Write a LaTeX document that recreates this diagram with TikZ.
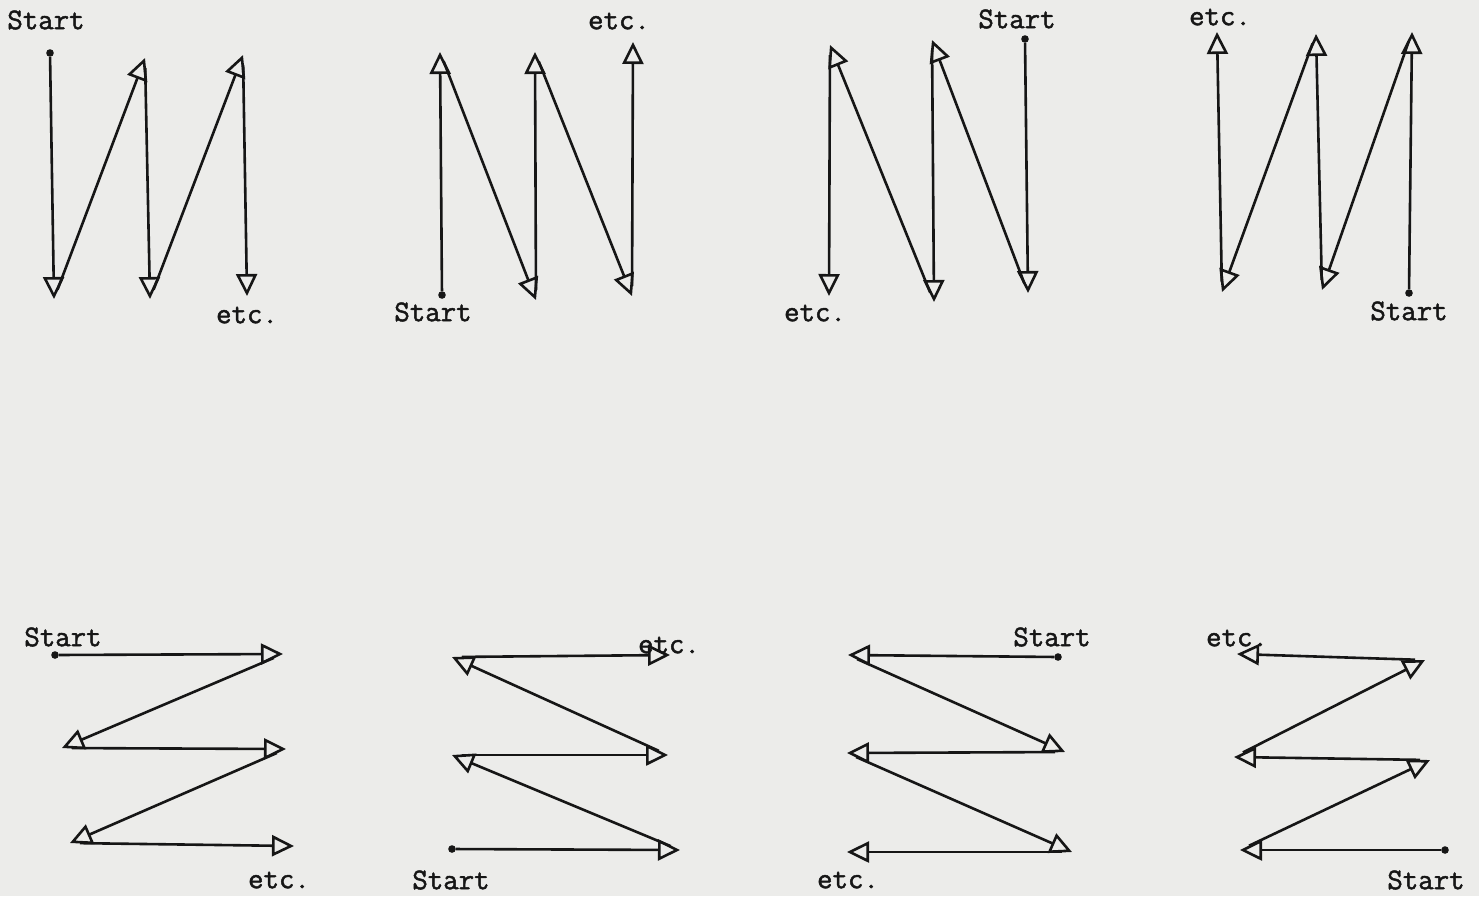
\documentclass[tikz,border=0pt]{standalone}
\usepackage{fontspec}
\usepackage{xcolor}
\usepackage{tikz}
\usetikzlibrary{arrows.meta}
\newfontfamily\typerfont{Latin Modern Mono}[FakeBold=1.6]

\begin{document}
\begin{tikzpicture}[x=0.5pt,y=-0.5pt,
  lbl/.style={font=\fontsize{15}{18}\selectfont\typerfont,text=ink,inner sep=0pt},
  startdot/.style={circle,fill=ink,inner sep=0pt,minimum size=3.8pt},
  seg/.style={draw=ink,line width=1.3pt,-{Triangle[open,length=11pt,width=10.5pt]},shorten <=5pt},
  firstseg/.style={seg,shorten <=0pt}]
  \definecolor{ink}{RGB}{22,22,22}
  \definecolor{paper}{RGB}{236,236,234}
  \useasboundingbox (0,0) rectangle (1479,896);
  \fill[paper] (0,0) rectangle (1479,896);
  \node[startdot] (a0) at (50,53) {};
  \coordinate (a1) at (54,299);
  \coordinate (a2) at (145,58);
  \coordinate (a3) at (150,299);
  \coordinate (a4) at (243,55);
  \coordinate (a5) at (247,296);
  \node[lbl] (aS) at (46,20) {Start};
  \node[lbl] (aE) at (247,315) {etc.};
  \node[startdot] (b0) at (442,295) {};
  \coordinate (b1) at (440,52);
  \coordinate (b2) at (536,300);
  \coordinate (b3) at (535,52);
  \coordinate (b4) at (632,296);
  \coordinate (b5) at (633,42);
  \node[lbl] (bS) at (433,312) {Start};
  \node[lbl] (bE) at (619,21) {etc.};
  \node[startdot] (c0) at (1025,39) {};
  \coordinate (c1) at (1028,293);
  \coordinate (c2) at (932,40);
  \coordinate (c3) at (934,302);
  \coordinate (c4) at (830,45);
  \coordinate (c5) at (829,296);
  \node[lbl] (cS) at (1017,19) {Start};
  \node[lbl] (cE) at (815,313) {etc.};
  \node[startdot] (d0) at (1409,293) {};
  \coordinate (d1) at (1412,32);
  \coordinate (d2) at (1322,290);
  \coordinate (d3) at (1316,34);
  \coordinate (d4) at (1222,292);
  \coordinate (d5) at (1217,32);
  \node[lbl] (dS) at (1409,311) {Start};
  \node[lbl] (dE) at (1220,17) {etc.};
  \node[startdot] (e0) at (55,655) {};
  \coordinate (e1) at (283,654);
  \coordinate (e2) at (62,748);
  \coordinate (e3) at (286,749);
  \coordinate (e4) at (70,843);
  \coordinate (e5) at (294,846);
  \node[lbl] (eS) at (63,637) {Start};
  \node[lbl] (eE) at (279,880) {etc.};
  \node[startdot] (f0) at (452,849) {};
  \coordinate (f1) at (680,850);
  \coordinate (f2) at (452,755);
  \coordinate (f3) at (668,755);
  \coordinate (f4) at (452,657);
  \coordinate (f5) at (670,655);
  \node[lbl] (fS) at (451,880) {Start};
  \node[lbl] (fE) at (669,645) {etc.};
  \node[startdot] (g0) at (1058,657) {};
  \coordinate (g1) at (848,655);
  \coordinate (g2) at (1065,752);
  \coordinate (g3) at (847,753);
  \coordinate (g4) at (1072,852);
  \coordinate (g5) at (847,852);
  \node[lbl] (gS) at (1052,637) {Start};
  \node[lbl] (gE) at (848,880) {etc.};
  \node[startdot] (h0) at (1445,850) {};
  \coordinate (h1) at (1240,850);
  \coordinate (h2) at (1430,760);
  \coordinate (h3) at (1234,757);
  \coordinate (h4) at (1425,660);
  \coordinate (h5) at (1237,654);
  \node[lbl] (hS) at (1426,880) {Start};
  \node[lbl] (hE) at (1237,638) {etc.};
  \foreach \p in {a,b,c,d,e,f,g,h}{%
    \draw[firstseg] (\p0) -- (\p1);
    \foreach \u/\v in {1/2,2/3,3/4,4/5}
      \draw[seg] (\p\u) -- (\p\v);
  }
\end{tikzpicture}
\end{document}
